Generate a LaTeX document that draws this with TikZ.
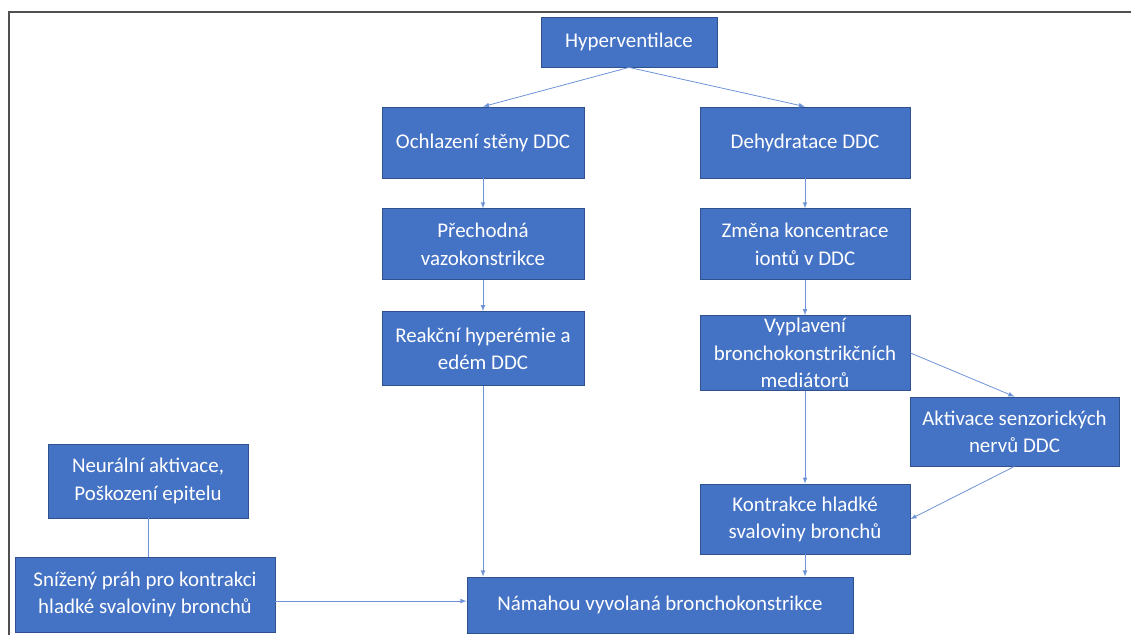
\documentclass[tikz,border=0pt]{standalone}
\usepackage{fontspec}
\setmainfont{Carlito}
\usetikzlibrary{arrows,positioning}
\definecolor{boxfill}{HTML}{4472C4}
\definecolor{boxline}{HTML}{2F528F}
\definecolor{linkcol}{HTML}{6E93D6}
\definecolor{framecol}{HTML}{505050}
\begin{document}
\begin{tikzpicture}[x=0.75pt,y=-0.75pt,
    font=\fontsize{15.7}{20.5}\selectfont,
    block/.style={draw=boxline,fill=boxfill,text=white,align=center,inner sep=2pt,line width=0.6pt},
    leftbox/.style={block,minimum width=151.5pt,minimum height=53.25pt},
    rightbox/.style={block,minimum width=157.5pt,minimum height=53.25pt},
    link/.style={-latex,draw=linkcol,line width=0.6pt},
    every edge/.style={draw,link}]

\useasboundingbox (0,0) rectangle (1131,635);
% frame
\draw[framecol,line width=1.2pt] (1131,12) -- (9,12) -- (9,635);

% Top block
\node[block,
    minimum width=132pt,
    minimum height=37.5pt] (hyper) at (629,42) {Hyperventilace};

% Left column
\node[leftbox] (ochlazeni) at (483,142.5) {Ochlazení stěny DDC};

\node[leftbox,
    below=22.5pt of ochlazeni] (prechodna) {Přechodná\\vazokonstrikce};

\node[leftbox,
    below=23.25pt of prechodna,
    minimum height=55.5pt] (reakcni) {Reakční hyperémie a\\edém DDC};

% Right column
\node[rightbox] (dehydratace) at (805,142.5) {Dehydratace DDC};

\node[rightbox,
    below=22.5pt of dehydratace] (zmena) {Změna koncentrace\\iontů v DDC};

\node[rightbox,
    below=26.25pt of zmena] (vyplaveni) {Vyplavení\\bronchokonstrikčních\\mediátorů};

\node[rightbox,
    below=69.75pt of vyplaveni,
    minimum height=52.5pt] (kontrakce) {Kontrakce hladké\\svaloviny bronchů};

\node[block,
    minimum width=156.75pt,
    minimum height=51.75pt] (aktivace) at (1014.5,431.5) {Aktivace senzorických\\nervů DDC};

% Bottom left
\node[block,
    minimum width=150pt,
    minimum height=55.5pt] (neuralni) at (148,481) {Neurální aktivace,\\Poškození epitelu};

\node[block,
    minimum width=195pt,
    minimum height=56.25pt] (snizeny) at (145,594.5) {Snížený práh pro kontrakci\\hladké svaloviny bronchů};

% Result
\node[block,
    minimum width=289.5pt,
    minimum height=42pt] (namahou) at (660,605) {Námahou vyvolaná bronchokonstrikce};

% Arrows
\draw[link] (hyper.south) -- (ochlazeni.north);
\draw[link] (hyper.south) -- (dehydratace.north);

\draw[link] (ochlazeni) edge (prechodna)
    (prechodna) edge (reakcni)
    (dehydratace) edge (zmena)
    (zmena) edge (vyplaveni)
    (vyplaveni) edge (kontrakce);

\draw[link] (vyplaveni.east) -- (aktivace.north);
\draw[link] (aktivace.south) -- (kontrakce.east);

\draw[link] (reakcni.south) -- (reakcni.south |- namahou.north);
\draw[link] (kontrakce.south) -- (kontrakce.south |- namahou.north);

\draw[draw=linkcol,line width=0.6pt] (neuralni) -- (neuralni |- snizeny.north);
\draw[link] ([yshift=-4.9pt]snizeny.east) -- ([yshift=-4.9pt]snizeny.east -| namahou.west);

\end{tikzpicture}
\end{document}
